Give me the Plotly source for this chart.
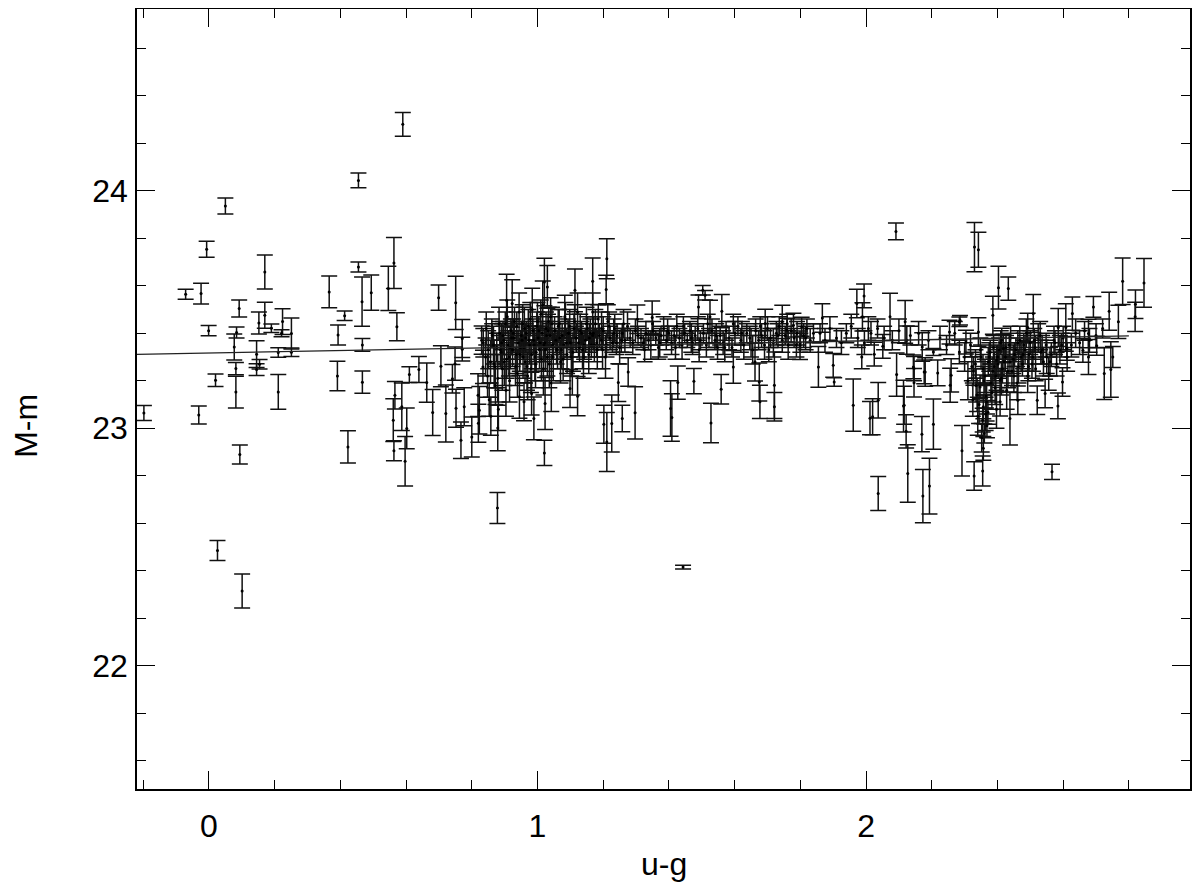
import plotly.graph_objects as go

# ---- left, sparse region ----
ug_left = [-0.198, -0.071, -0.024, -0.007, 0.050, -0.001, 0.020, -0.031, 0.094, 0.092,
           0.084, 0.077, 0.082, 0.082, 0.170, 0.170, 0.152, 0.190, 0.145, 0.154,
           0.145, 0.211, 0.224, 0.221, 0.251, 0.251, 0.211, 0.366, 0.413, 0.393,
           0.391, 0.423, 0.455, 0.455, 0.466, 0.467, 0.467, 0.494, 0.546, 0.563,
           0.572, 0.699, 0.590, 0.026, 0.101, 0.878, 0.597]
mm_left = [23.064, 23.564, 23.567, 23.754, 23.936, 23.411, 23.202, 23.056, 22.889, 23.504,
           23.403, 23.342, 23.251, 23.152, 23.658, 23.476, 23.443, 23.421, 23.312, 23.269,
           23.247, 23.319, 23.449, 23.400, 23.399, 23.320, 23.153, 23.574, 23.474, 23.393,
           23.220, 22.921, 23.679, 24.044, 23.533, 23.351, 23.194, 23.571, 23.589, 23.696,
           23.427, 23.550, 24.280, 22.485, 22.314, 22.664, 22.861]
err_left = [0.032, 0.021, 0.044, 0.034, 0.034, 0.022, 0.026, 0.038, 0.040, 0.036,
            0.023, 0.055, 0.026, 0.067, 0.072, 0.055, 0.046, 0.018, 0.056, 0.020,
            0.025, 0.020, 0.054, 0.015, 0.065, 0.018, 0.073, 0.067, 0.020, 0.042,
            0.062, 0.068, 0.021, 0.031, 0.104, 0.027, 0.047, 0.074, 0.093, 0.107,
            0.059, 0.053, 0.050, 0.042, 0.072, 0.065, 0.104]

# ---- middle, individually read points ----
ug_mid = [0.566, 0.561, 0.587, 0.602, 0.563, 0.610, 0.639, 0.663, 0.681, 0.706,
          0.721, 0.751, 0.771, 0.771, 0.741, 0.749, 0.752, 0.767, 0.777, 0.800,
          0.819, 0.823, 0.820, 0.830, 0.834, 0.879, 0.906, 0.923, 0.945, 0.959,
          0.989, 1.021, 1.030, 1.021, 1.023, 0.982, 1.114, 1.168, 1.211, 1.209,
          1.168, 1.122, 1.099, 1.202, 1.211, 1.226, 1.258, 1.246, 1.304, 1.349,
          1.503, 1.510, 1.525, 1.561, 1.490, 1.476, 1.528, 1.559, 1.405, 1.409,
          1.427, 1.297, 1.276, 1.443]
mm_mid = [23.139, 23.034, 23.090, 22.999, 22.905, 23.226, 23.247, 23.192, 23.066, 23.261,
          23.062, 23.528, 23.378, 23.333, 23.208, 23.272, 23.084, 22.949, 23.090, 22.963,
          23.139, 23.076, 23.021, 23.371, 23.258, 23.001, 23.539, 23.525, 23.132, 23.111,
          23.041, 23.616, 23.595, 22.896, 23.104, 23.146, 23.581, 23.619, 23.714, 23.584,
          23.490, 23.135, 23.167, 23.017, 22.942, 23.020, 23.041, 23.192, 23.459, 23.466,
          23.581, 23.560, 23.469, 23.493, 23.511, 23.198, 23.022, 23.164, 23.083, 23.045,
          23.192, 23.065, 23.237, 22.415]
err_mid = [0.058, 0.090, 0.100, 0.086, 0.042, 0.033, 0.055, 0.083, 0.097, 0.086,
           0.120, 0.112, 0.080, 0.050, 0.060, 0.070, 0.080, 0.077, 0.080, 0.084,
           0.090, 0.100, 0.080, 0.060, 0.070, 0.096, 0.110, 0.100, 0.090, 0.080,
           0.090, 0.100, 0.090, 0.053, 0.110, 0.090, 0.090, 0.098, 0.084, 0.060,
           0.080, 0.083, 0.080, 0.080, 0.124, 0.120, 0.056, 0.080, 0.060, 0.070,
           0.020, 0.020, 0.070, 0.070, 0.050, 0.053, 0.083, 0.062, 0.117, 0.100,
           0.070, 0.110, 0.060, 0.008]

# ---- right, individually read points ----
ug_right = [1.596, 1.662, 1.675, 1.677, 1.721, 1.721, 1.693, 1.745, 1.759, 1.779,
            1.804, 1.855, 1.799, 2.091, 2.330, 2.342, 2.403, 2.386, 1.867, 1.972,
            1.994, 1.989, 2.007, 2.073, 2.119, 2.124, 2.051, 2.025, 1.961, 1.987,
            1.903, 1.900, 2.020, 2.012, 2.037, 2.037, 2.093, 2.114, 2.122, 2.127,
            2.146, 2.146, 2.171, 2.180, 2.205, 2.218, 2.170, 2.205, 2.173, 2.193,
            2.254, 2.284, 2.259, 2.256, 2.292, 2.284, 2.304, 2.342, 2.327, 2.329,
            2.355, 2.355, 2.357, 2.357, 2.360, 2.347, 2.365, 2.371, 2.433, 2.408,
            2.408, 2.398, 2.418, 2.413, 2.438, 2.462, 2.509, 2.492, 2.585, 2.608,
            2.628, 2.692, 2.677, 2.740, 2.781, 2.846, 2.820, 2.819, 2.768, 2.751,
            2.725, 2.745, 2.660, 2.702, 2.677, 2.611, 2.598, 2.584, 2.566, 2.545,
            2.521, 2.116, 2.144, 2.177, 2.286]
mm_right = [23.258, 23.279, 23.195, 23.111, 23.181, 23.090, 23.441, 23.448, 23.413, 23.434,
            23.427, 23.258, 23.349, 23.829, 23.763, 23.752, 23.592, 23.476, 23.464, 23.525,
            23.557, 23.469, 23.420, 23.469, 23.448, 23.371, 23.345, 23.312, 23.097, 23.300,
            23.195, 23.265, 23.048, 23.042, 23.118, 22.725, 23.226, 23.093, 22.987, 22.809,
            23.251, 23.191, 23.342, 23.237, 23.321, 23.233, 22.975, 23.017, 22.714, 22.756,
            23.405, 23.448, 23.223, 23.181, 22.905, 23.321, 23.363, 23.405, 23.241, 22.799,
            22.820, 23.034, 22.915, 23.090, 22.978, 23.174, 23.135, 23.067, 23.588, 23.111,
            23.202, 23.286, 23.336, 23.371, 23.041, 23.118, 23.483, 23.424, 23.424, 23.424,
            23.483, 23.511, 23.399, 23.493, 23.619, 23.612, 23.522, 23.469, 23.448, 23.300,
            23.230, 23.247, 23.328, 23.347, 23.300, 23.336, 23.195, 23.094, 22.816, 23.146,
            23.118, 23.097, 23.258, 23.237, 23.455]
err_right = [0.069, 0.080, 0.080, 0.070, 0.140, 0.060, 0.060, 0.070, 0.050, 0.050,
             0.040, 0.086, 0.060, 0.035, 0.104, 0.074, 0.090, 0.080, 0.060, 0.060,
             0.050, 0.060, 0.050, 0.100, 0.090, 0.060, 0.050, 0.050, 0.110, 0.050,
             0.018, 0.050, 0.076, 0.070, 0.075, 0.072, 0.091, 0.109, 0.070, 0.121,
             0.051, 0.060, 0.060, 0.060, 0.015, 0.054, 0.074, 0.106, 0.112, 0.117,
             0.050, 0.020, 0.070, 0.072, 0.106, 0.050, 0.050, 0.060, 0.060, 0.060,
             0.063, 0.050, 0.050, 0.050, 0.040, 0.050, 0.050, 0.050, 0.049, 0.060,
             0.050, 0.060, 0.060, 0.050, 0.112, 0.060, 0.080, 0.060, 0.080, 0.100,
             0.070, 0.044, 0.060, 0.080, 0.098, 0.103, 0.060, 0.062, 0.070, 0.044,
             0.109, 0.117, 0.050, 0.040, 0.074, 0.050, 0.060, 0.054, 0.032, 0.060,
             0.060, 0.080, 0.050, 0.050, 0.020]

# ---- dense core, u-g 0.83 - 1.31 ----
ug_core1 = [0.835, 0.842, 0.848, 0.853, 0.858, 0.862, 0.868, 0.872, 0.876, 0.881,
            0.885, 0.889, 0.893, 0.897, 0.902, 0.906, 0.911, 0.915, 0.919, 0.924, 0.928, 0.933, 0.937, 0.941, 0.946,
            0.951, 0.955, 0.958, 0.962, 0.966, 0.970, 0.974, 0.978, 0.982, 0.986, 0.990, 0.994, 0.998, 1.002, 1.006,
            1.010, 1.014, 1.018, 1.022, 1.026, 1.030, 1.034, 1.038, 1.042, 1.046,
            1.052, 1.056, 1.061, 1.066, 1.070, 1.075, 1.080, 1.085, 1.090, 1.095, 1.100, 1.106, 1.111, 1.117, 1.122,
            1.128, 1.134, 1.140, 1.146,
            1.152, 1.158, 1.164, 1.170, 1.176, 1.182, 1.188, 1.194, 1.200, 1.207, 1.214, 1.221, 1.228, 1.235, 1.242,
            1.250, 1.258, 1.266, 1.274, 1.282, 1.290, 1.298, 1.306]
mm_core1 = [23.36, 23.30, 23.22, 23.12, 23.05, 23.39, 23.27, 23.18, 23.34, 23.08,
            23.40, 23.32, 23.25, 23.37, 23.44, 23.29, 23.35, 23.20, 23.41, 23.33, 23.38, 23.26, 23.43, 23.36, 23.31,
            23.39, 23.44, 23.34, 23.28, 23.40, 23.22, 23.37, 23.46, 23.31, 23.41, 23.35, 23.27, 23.43, 23.38, 23.33,
            23.48, 23.40, 23.25, 23.36, 23.42, 23.30, 23.45, 23.39, 23.19, 23.35,
            23.41, 23.37, 23.33, 23.44, 23.28, 23.39, 23.35, 23.46, 23.31, 23.40, 23.36, 23.24, 23.42, 23.38, 23.49,
            23.34, 23.40, 23.30, 23.37,
            23.42, 23.38, 23.35, 23.40, 23.44, 23.33, 23.39, 23.37, 23.41, 23.30, 23.45, 23.38, 23.36, 23.42, 23.39,
            23.34, 23.40, 23.37, 23.43, 23.38, 23.36, 23.41, 23.39]
err_core1 = [0.06, 0.08, 0.09, 0.07, 0.08, 0.05, 0.10, 0.08, 0.06, 0.09,
             0.05, 0.07, 0.09, 0.06, 0.05, 0.08, 0.06, 0.09, 0.05, 0.07, 0.06, 0.08, 0.06, 0.05, 0.07,
             0.06, 0.08, 0.05, 0.09, 0.05, 0.10, 0.06, 0.07, 0.06, 0.05, 0.07, 0.10, 0.06, 0.05, 0.08,
             0.06, 0.05, 0.11, 0.06, 0.07, 0.08, 0.06, 0.05, 0.12, 0.06,
             0.06, 0.05, 0.08, 0.06, 0.09, 0.05, 0.06, 0.07, 0.08, 0.05, 0.06, 0.10, 0.06, 0.05, 0.08,
             0.06, 0.05, 0.09, 0.05,
             0.05, 0.06, 0.05, 0.07, 0.06, 0.08, 0.05, 0.04, 0.06, 0.09, 0.07, 0.05, 0.04, 0.06, 0.05,
             0.07, 0.04, 0.05, 0.06, 0.04, 0.05, 0.05, 0.04]

ug_core1b = [0.844, 0.857, 0.866, 0.879, 0.887, 0.895, 0.904, 0.913, 0.921, 0.930,
             0.939, 0.948, 0.956, 0.964, 0.972, 0.980, 0.988, 0.996, 1.004, 1.012,
             1.020, 1.028, 1.036, 1.044, 1.058, 1.068, 1.078, 1.088, 1.098, 1.108,
             1.118, 1.130, 1.142, 1.156, 1.168, 1.180, 1.195, 1.210, 1.232, 1.255]
mm_core1b = [23.42, 23.28, 23.35, 23.21, 23.33, 23.39, 23.16, 23.30, 23.38, 23.45,
             23.23, 23.34, 23.30, 23.38, 23.43, 23.25, 23.37, 23.32, 23.41, 23.29,
             23.35, 23.39, 23.27, 23.44, 23.33, 23.38, 23.29, 23.36, 23.43, 23.32,
             23.38, 23.41, 23.35, 23.31, 23.39, 23.36, 23.42, 23.35, 23.40, 23.37]
err_core1b = [0.07, 0.09, 0.08, 0.10, 0.07, 0.06, 0.11, 0.08, 0.07, 0.06,
              0.10, 0.07, 0.09, 0.06, 0.07, 0.10, 0.06, 0.08, 0.06, 0.09,
              0.07, 0.06, 0.10, 0.07, 0.06, 0.07, 0.09, 0.06, 0.07, 0.08,
              0.06, 0.07, 0.06, 0.08, 0.05, 0.06, 0.07, 0.05, 0.06, 0.05]

ug_core1c = [0.850, 0.861, 0.870, 0.883, 0.891, 0.899, 0.908, 0.917, 0.926, 0.935,
             0.944, 0.953, 0.960, 0.968, 0.976, 0.984, 0.992, 1.000, 1.008, 1.016,
             1.024, 1.032, 1.040, 1.048, 1.063, 1.073, 1.083, 1.093, 1.103, 1.113,
             1.125, 1.137, 1.149, 1.161, 1.173, 1.185, 1.198, 1.218, 1.240, 1.262]
mm_core1c = [23.33, 23.40, 23.26, 23.44, 23.36, 23.28, 23.47, 23.34, 23.40, 23.31,
             23.49, 23.37, 23.42, 23.26, 23.35, 23.50, 23.30, 23.45, 23.36, 23.52,
             23.33, 23.41, 23.47, 23.30, 23.43, 23.33, 23.47, 23.40, 23.30, 23.45,
             23.36, 23.33, 23.44, 23.40, 23.35, 23.46, 23.33, 23.43, 23.36, 23.44]
err_core1c = [0.08, 0.06, 0.09, 0.07, 0.08, 0.10, 0.07, 0.09, 0.06, 0.08,
              0.08, 0.07, 0.09, 0.10, 0.08, 0.09, 0.10, 0.08, 0.07, 0.10,
              0.09, 0.07, 0.08, 0.10, 0.07, 0.08, 0.09, 0.06, 0.08, 0.07,
              0.06, 0.08, 0.07, 0.06, 0.07, 0.06, 0.08, 0.06, 0.05, 0.06]

# ---- dense core, u-g 1.31 - 1.85 ----
ug_core2 = [1.315, 1.322, 1.330, 1.338, 1.345, 1.352, 1.360, 1.368, 1.376, 1.384,
            1.392, 1.400, 1.408, 1.416, 1.424, 1.432, 1.440, 1.448, 1.456, 1.464,
            1.472, 1.480, 1.488, 1.496, 1.505, 1.514, 1.522, 1.531, 1.540, 1.548,
            1.556, 1.565, 1.574, 1.583, 1.592, 1.601, 1.610, 1.619, 1.628, 1.637,
            1.646, 1.655, 1.664, 1.673, 1.682, 1.691, 1.700, 1.709, 1.718, 1.727,
            1.736, 1.745, 1.754, 1.763, 1.772, 1.781, 1.790, 1.800, 1.810, 1.820,
            1.830, 1.840]
mm_core2 = [23.38, 23.36, 23.40, 23.37, 23.35, 23.41, 23.38, 23.34, 23.39, 23.42,
            23.37, 23.40, 23.36, 23.39, 23.43, 23.38, 23.35, 23.40, 23.37, 23.41,
            23.36, 23.39, 23.42, 23.37, 23.40, 23.35, 23.38, 23.41, 23.37, 23.34,
            23.39, 23.36, 23.41, 23.38, 23.34, 23.40, 23.43, 23.37, 23.35, 23.40,
            23.38, 23.33, 23.41, 23.37, 23.39, 23.35, 23.42, 23.38, 23.36, 23.40,
            23.43, 23.37, 23.39, 23.35, 23.41, 23.38, 23.40, 23.36, 23.39, 23.42,
            23.37, 23.40]
err_core2 = [0.04, 0.03, 0.05, 0.04, 0.06, 0.04, 0.03, 0.05, 0.04, 0.05,
             0.04, 0.03, 0.05, 0.04, 0.05, 0.04, 0.06, 0.04, 0.03, 0.04,
             0.05, 0.04, 0.05, 0.04, 0.04, 0.05, 0.04, 0.05, 0.04, 0.05,
             0.04, 0.05, 0.04, 0.05, 0.04, 0.05, 0.04, 0.05, 0.06, 0.04,
             0.05, 0.06, 0.05, 0.04, 0.05, 0.06, 0.05, 0.04, 0.06, 0.05,
             0.04, 0.05, 0.04, 0.06, 0.05, 0.04, 0.05, 0.04, 0.05, 0.04,
             0.05, 0.04]

ug_core2b = [1.326, 1.350, 1.372, 1.396, 1.420, 1.444, 1.468, 1.492, 1.518, 1.544,
             1.570, 1.596, 1.622, 1.650, 1.678, 1.704, 1.732, 1.760, 1.788, 1.816]
mm_core2b = [23.33, 23.44, 23.36, 23.41, 23.34, 23.43, 23.38, 23.33, 23.44, 23.39,
             23.34, 23.44, 23.40, 23.36, 23.43, 23.33, 23.39, 23.44, 23.35, 23.38]
err_core2b = [0.05, 0.04, 0.06, 0.05, 0.05, 0.04, 0.06, 0.05, 0.04, 0.05,
              0.06, 0.04, 0.05, 0.06, 0.04, 0.05, 0.05, 0.04, 0.05, 0.05]

# ---- band, u-g 1.85 - 2.3 ----
ug_core3 = [1.860, 1.875, 1.890, 1.910, 1.925, 1.940, 1.955, 1.975, 1.995, 2.015,
            2.035, 2.055, 2.080, 2.100, 2.135, 2.160, 2.190, 2.225, 2.245, 2.270]
mm_core3 = [23.40, 23.37, 23.42, 23.38, 23.36, 23.40, 23.43, 23.38, 23.36, 23.40,
            23.42, 23.38, 23.37, 23.41, 23.39, 23.40, 23.37, 23.38, 23.35, 23.40]
err_core3 = [0.04, 0.05, 0.05, 0.04, 0.05, 0.04, 0.05, 0.04, 0.05, 0.05,
             0.04, 0.05, 0.04, 0.05, 0.04, 0.05, 0.04, 0.05, 0.04, 0.05]

# ---- dense clump, u-g 2.3 - 2.75 ----
ug_core4 = [2.300, 2.310, 2.318, 2.325, 2.333, 2.340, 2.348, 2.352, 2.362, 2.368,
            2.375, 2.383, 2.390, 2.397, 2.405, 2.412, 2.420, 2.428, 2.436, 2.444,
            2.452, 2.460, 2.468, 2.476, 2.484, 2.492, 2.500, 2.508, 2.516, 2.524,
            2.532, 2.540, 2.548, 2.556, 2.564, 2.572, 2.580, 2.590, 2.600, 2.612,
            2.625, 2.638, 2.650, 2.665, 2.680, 2.700, 2.720]
mm_core4 = [23.30, 23.20, 23.35, 23.12, 23.27, 23.05, 23.33, 22.96, 23.22, 23.01,
            23.30, 23.15, 23.26, 23.08, 23.33, 23.21, 23.28, 23.16, 23.35, 23.24,
            23.31, 23.19, 23.37, 23.27, 23.33, 23.22, 23.36, 23.30, 23.25, 23.38,
            23.32, 23.28, 23.35, 23.23, 23.31, 23.37, 23.27, 23.33, 23.38, 23.30,
            23.35, 23.40, 23.36, 23.41, 23.37, 23.39, 23.42]
err_core4 = [0.06, 0.08, 0.05, 0.07, 0.06, 0.08, 0.05, 0.06, 0.07, 0.05,
             0.06, 0.07, 0.06, 0.08, 0.05, 0.07, 0.06, 0.08, 0.05, 0.06,
             0.05, 0.07, 0.06, 0.05, 0.06, 0.07, 0.05, 0.06, 0.05, 0.06,
             0.05, 0.06, 0.05, 0.07, 0.05, 0.06, 0.05, 0.06, 0.05, 0.06,
             0.05, 0.06, 0.05, 0.04, 0.05, 0.05, 0.04]

ug_core4b = [2.335, 2.344, 2.356, 2.364, 2.372, 2.380, 2.388, 2.395, 2.402, 2.410,
             2.424, 2.432, 2.440, 2.448, 2.456, 2.464, 2.472, 2.480, 2.488, 2.496,
             2.505, 2.515, 2.530, 2.550, 2.575]
mm_core4b = [23.18, 23.10, 23.25, 23.06, 23.28, 23.19, 23.34, 23.22, 23.27, 23.36,
             23.30, 23.24, 23.38, 23.29, 23.33, 23.26, 23.30, 23.35, 23.40, 23.31,
             23.27, 23.34, 23.39, 23.30, 23.36]
err_core4b = [0.07, 0.08, 0.06, 0.07, 0.06, 0.08, 0.05, 0.07, 0.06, 0.05,
              0.06, 0.07, 0.05, 0.06, 0.05, 0.07, 0.06, 0.05, 0.06, 0.07,
              0.06, 0.05, 0.06, 0.07, 0.05]

ug_core4c = [2.322, 2.338, 2.350, 2.359, 2.367, 2.378, 2.386, 2.393, 2.400, 2.415,
             2.426, 2.438, 2.450, 2.462, 2.478, 2.494, 2.512, 2.536, 2.560, 2.595]
mm_core4c = [23.26, 23.14, 23.30, 23.20, 23.11, 23.32, 23.24, 23.17, 23.30, 23.25,
             23.34, 23.28, 23.22, 23.36, 23.31, 23.26, 23.37, 23.33, 23.28, 23.35]
err_core4c = [0.06, 0.07, 0.05, 0.06, 0.08, 0.05, 0.06, 0.07, 0.05, 0.06,
              0.05, 0.06, 0.07, 0.05, 0.06, 0.06, 0.05, 0.06, 0.06, 0.05]

# ---- linear fit ----
fit_ug = [-0.22, 2.80]
fit_intercept = 23.317
fit_slope = 0.0256

x_range = [-0.219, 2.986]
y_range = [21.48, 24.766]
major_x = [0, 1, 2]
major_y = [22, 23, 24]

groups = [
    (ug_left, mm_left, err_left),
    (ug_mid, mm_mid, err_mid),
    (ug_right, mm_right, err_right),
    (ug_core1, mm_core1, err_core1),
    (ug_core1b, mm_core1b, err_core1b),
    (ug_core1c, mm_core1c, err_core1c),
    (ug_core2, mm_core2, err_core2),
    (ug_core2b, mm_core2b, err_core2b),
    (ug_core3, mm_core3, err_core3),
    (ug_core4, mm_core4, err_core4),
    (ug_core4b, mm_core4b, err_core4b),
    (ug_core4c, mm_core4c, err_core4c),
]
xs, ys, es = [], [], []
for gx, gy, ge in groups:
    n = min(len(gx), len(gy), len(ge))
    xs += gx[:n]
    ys += gy[:n]
    es += ge[:n]

fig = go.Figure()
fig.add_trace(go.Scatter(
    x=xs, y=ys, mode="markers",
    marker=dict(color="black", size=3),
    error_y=dict(type="data", array=es, visible=True, color="#111111",
                 thickness=1.5, width=8),
    showlegend=False, hoverinfo="skip",
))
fig.add_trace(go.Scatter(
    x=fit_ug, y=[fit_intercept + fit_slope * v for v in fit_ug],
    mode="lines", line=dict(color="#222222", width=1.3),
    showlegend=False, hoverinfo="skip",
))

font = dict(family="Liberation Sans, Arial, Helvetica, sans-serif", size=32, color="black")
fig.update_layout(
    width=1192, height=888,
    margin=dict(l=129, r=10, t=1, b=107),
    paper_bgcolor="white", plot_bgcolor="white",
    font=font,
    annotations=[
        dict(text="u-g", xref="paper", yref="paper", x=0.5, y=0,
             xanchor="center", yanchor="middle", yshift=-75, showarrow=False, font=font),
        dict(text="M-m", xref="paper", yref="y", x=0, y=23.01, textangle=-90,
             xanchor="center", yanchor="middle", xshift=-111, showarrow=False, font=font),
    ],
)
fig.update_xaxes(
    range=x_range, showgrid=False, zeroline=False, automargin=False,
    showline=True, linecolor="black", linewidth=1.5, mirror="ticks",
    ticks="inside", ticklen=18, tickwidth=1.3, tickcolor="black",
    tickvals=major_x, ticktext=[str(v) for v in major_x],
    ticklabelstandoff=8,
    minor=dict(dtick=0.2, tick0=0, ticks="inside", ticklen=9, tickwidth=1.3,
               tickcolor="black", showgrid=False),
)
fig.update_yaxes(
    range=y_range, showgrid=False, zeroline=False, automargin=False,
    showline=True, linecolor="black", linewidth=1.5, mirror="ticks",
    ticks="inside", ticklen=18, tickwidth=1.3, tickcolor="black",
    tickvals=major_y, ticktext=[str(v) for v in major_y],
    ticklabelstandoff=1,
    minor=dict(dtick=0.2, tick0=22, ticks="inside", ticklen=9, tickwidth=1.3,
               tickcolor="black", showgrid=False),
)

fig.write_html("out.html")
